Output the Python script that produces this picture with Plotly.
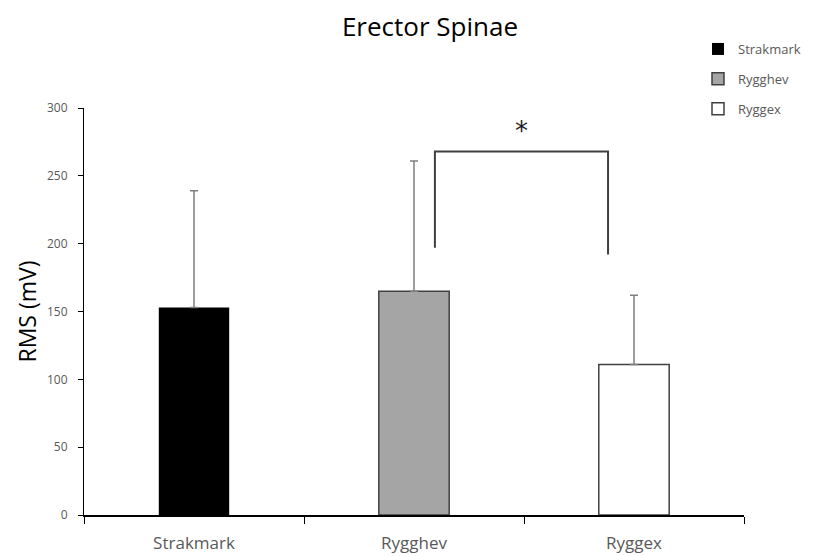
import plotly.graph_objects as go

categories = ["Strakmark", "Rygghev", "Ryggex"]
means = [153, 165, 111]
sd_upper = [86, 96, 51]
bar_colors = ["#000000", "#a5a5a5", "#ffffff"]
y_ticks = [0, 50, 100, 150, 200, 250, 300]

# significance bracket between Rygghev and Ryggex
bracket_x = [1.095, 1.882]
bracket_top = 268
bracket_bottoms = [197, 192]
sig_label = "*"

fig = go.Figure()
for cat, m, e, c in zip(categories, means, sd_upper, bar_colors):
    fig.add_trace(go.Bar(
        x=[cat], y=[m], name=cat, width=0.32,
        marker=dict(color=c, line=dict(color="#404040", width=1.5 if c != "#000000" else 0)),
        error_y=dict(type="data", array=[e], symmetric=False, arrayminus=[0],
                     color="#7f7f7f", thickness=1.5, width=4),
        legendgroup=cat,
    ))

fig.add_shape(type="path", xref="x", yref="y",
              path=f"M {bracket_x[0]},{bracket_bottoms[0]} L {bracket_x[0]},{bracket_top} "
                   f"L {bracket_x[1]},{bracket_top} L {bracket_x[1]},{bracket_bottoms[1]}",
              line=dict(color="#404040", width=2))
fig.add_annotation(x=(bracket_x[0] + bracket_x[1]) / 2, y=bracket_top, yanchor="bottom",
                   text=sig_label, showarrow=False, yshift=3,
                   font=dict(size=26, color="#1f1f1f", family="DejaVu Sans"))

fig.update_layout(
    width=829, height=556,
    margin=dict(l=84, r=85, t=108, b=41, autoexpand=False),
    paper_bgcolor="white", plot_bgcolor="white",
    barmode="overlay",
    font=dict(family="Open Sans", color="#595959"),
    title=dict(text="Erector Spinae", x=430 / 829, xanchor="center", xref="container",
               y=1 - 27 / 556, yanchor="middle", yref="container",
               font=dict(size=26, color="#000000", family="Open Sans")),
    legend=dict(x=698 / 829, xref="container", y=1 - 34 / 556, yref="container",
                xanchor="left", yanchor="top",
                font=dict(size=13, color="#595959"), tracegroupgap=10,
                bgcolor="rgba(0,0,0,0)", itemwidth=30),
    xaxis=dict(type="category", tickson="boundaries", ticks="outside", ticklen=7,
               tickcolor="#000000", showline=True, linecolor="#000000", linewidth=1.5,
               showgrid=False, tickfont=dict(size=17, color="#595959"), range=[-0.5, 2.5],
               ticklabelstandoff=12),
    yaxis=dict(range=[0, 300], tickvals=y_ticks, ticks="outside", ticklen=5,
               tickcolor="#000000", showline=True, linecolor="#000000", linewidth=1.2,
               showgrid=False, zeroline=False, tickfont=dict(size=12, color="#595959"),
               ticklabelstandoff=8,
               title=dict(text="RMS (mV)", font=dict(size=23, color="#000000"), standoff=3)),
)

fig.write_html("out.html", config={"displayModeBar": False},
               post_script="document.body.style.margin='0';")
